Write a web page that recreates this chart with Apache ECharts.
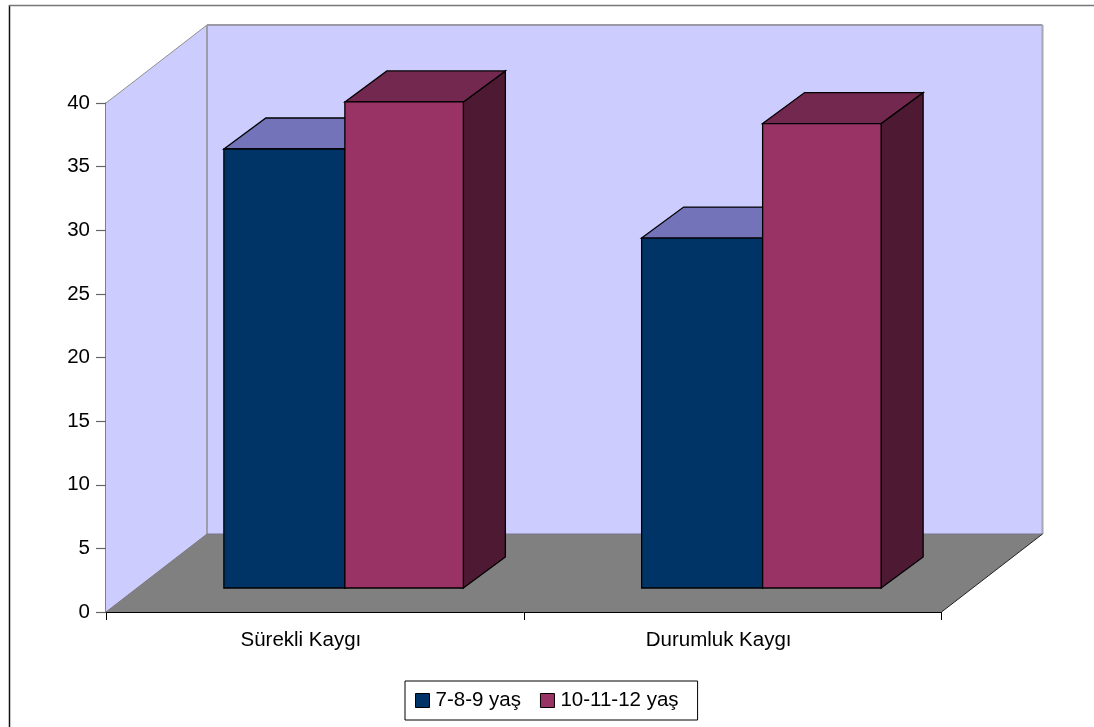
<!DOCTYPE html>
<html><head><meta charset="utf-8">
<style>html,body{margin:0;padding:0;background:#fff}#c{width:1094px;height:727px}</style>
<script src="https://cdn.jsdelivr.net/npm/echarts@6/dist/echarts.min.js"></script>
</head><body><div id="c"></div>
<script>
const categories = ['Sürekli Kaygı', 'Durumluk Kaygı'];
const seriesNames = ['7-8-9 yaş', '10-11-12 yaş'];
const young = [34.5, 27.5];
const older = [38.2, 36.5];
const yTicks = {min: 0, max: 40, interval: 5};

const FONT = '"Liberation Sans", Arial, sans-serif';
const FS = 20.5;
const wallD = {x: 101, y: 78};   // depth of the whole floor, px
const barOff = {x: 30, y: 24};   // front face of bars from axis plane
const barD = {x: 42, y: 31};     // depth of a bar
const faces = [
  {front: '#003366', top: '#7373BA', side: '#001A33', lw: 121, rw: 0},
  {front: '#993366', top: '#73284F', side: '#4D1933', lw: 0, rw: 118.5}
];

function poly(points, fill, stroke, lw) {
  return {type: 'polygon', shape: {points},
    style: {fill, stroke: stroke || 'none', lineWidth: lw || 0}};
}
function line(a, b, stroke, lw) {
  return {type: 'line', shape: {x1: a[0], y1: a[1], x2: b[0], y2: b[1]},
    style: {stroke, lineWidth: lw}};
}
function renderWalls(params) {
  const r = params.coordSys;
  const L = r.x, R = r.x + r.width, T = r.y, B = r.y + r.height;
  const dx = wallD.x, dy = wallD.y;
  return {type: 'group', children: [
    poly([[L, B], [L, T], [L + dx, T - dy], [L + dx, B - dy]], '#CCCCFF'),
    poly([[L + dx, T - dy], [R + dx, T - dy], [R + dx, B - dy], [L + dx, B - dy]], '#CCCCFF'),
    poly([[L, B], [L + dx, B - dy], [R + dx, B - dy], [R, B]], '#808080'),
    line([L, T], [L + dx, T - dy], '#8f8f8f', 1),
    line([L, B], [L + dx, B - dy], '#777777', 1),
    line([L + dx, T - dy], [L + dx, B - dy], '#8f8f8f', 1.5),
    line([L + dx, T - dy], [R + dx, T - dy], '#9a9aa8', 2),
    line([R + dx, T - dy], [R + dx, B - dy], '#a8a8b0', 2),
    line([L + dx, B - dy], [R + dx, B - dy], '#77778a', 1),
    line([R, B], [R + dx, B - dy], '#222222', 1)
  ]};
}
function barRenderer(f) {
  return function (params, api) {
    const c = api.coord([api.value(0), api.value(1)]);
    const base = api.coord([api.value(0), 0]);
    const x0 = c[0] + barOff.x - f.lw;
    const x1 = c[0] + barOff.x + f.rw;
    const yt = c[1] - barOff.y;
    const yb = base[1] - barOff.y;
    const dx = barD.x, dy = barD.y;
    const st = '#000';
    return {type: 'group', children: [
      poly([[x1, yt], [x1 + dx, yt - dy], [x1 + dx, yb - dy], [x1, yb]], f.side, st, 1.3),
      poly([[x0, yt], [x0 + dx, yt - dy], [x1 + dx, yt - dy], [x1, yt]], f.top, st, 1.3),
      poly([[x0, yt], [x1, yt], [x1, yb], [x0, yb]], f.front, st, 1.3)
    ]};
  };
}
const toData = arr => arr.map((v, i) => [i, v]);

const chart = echarts.init(document.getElementById('c'), null, {renderer: 'canvas'});
chart.setOption({
  animation: false,
  backgroundColor: '#fff',
  textStyle: {fontFamily: FONT},
  grid: {left: 106, top: 103, width: 835.5, height: 509, containLabel: false},
  legend: {
    data: seriesNames, left: 405, top: 681, orient: 'horizontal',
    padding: [9, 19, 9, 10], itemGap: 19, itemWidth: 14, itemHeight: 14,
    icon: 'rect', backgroundColor: '#fff', borderColor: '#000', borderWidth: 1, borderRadius: 0,
    selectedMode: false,
    itemStyle: {borderColor: '#000', borderWidth: 1},
    textStyle: {fontFamily: FONT, fontSize: FS, color: '#000', padding: [0, 0, 0, 1]}
  },
  xAxis: {
    type: 'category', data: categories, boundaryGap: true,
    axisLine: {show: true, lineStyle: {color: '#000', width: 1}},
    axisTick: {show: true, alignWithLabel: false, length: 8, lineStyle: {color: '#000', width: 1}},
    axisLabel: {color: '#000', fontFamily: FONT, fontSize: FS, margin: 18, padding: [0, 28, 0, 0]},
    splitLine: {show: false}
  },
  yAxis: {
    type: 'value', min: yTicks.min, max: yTicks.max, interval: yTicks.interval,
    axisLine: {show: true, lineStyle: {color: '#555', width: 1.5}},
    axisTick: {show: true, length: 10, lineStyle: {color: '#666', width: 1.2}},
    axisLabel: {color: '#000', fontFamily: FONT, fontSize: FS, margin: 16},
    splitLine: {show: false}
  },
  graphic: [
    {type: 'line', z: 100, shape: {x1: 9.5, y1: 5, x2: 9.5, y2: 727}, style: {stroke: '#111', lineWidth: 1.5}},
    {type: 'line', z: 100, shape: {x1: 9, y1: 5.5, x2: 1094, y2: 5.5}, style: {stroke: '#777', lineWidth: 1.5}}
  ],
  series: [
    {type: 'custom', name: 'walls', coordinateSystem: 'cartesian2d', z: 1, silent: true,
      data: [[0, 0]], renderItem: renderWalls, clip: false},
    {type: 'custom', name: seriesNames[0], coordinateSystem: 'cartesian2d', z: 2, silent: true,
      itemStyle: {color: faces[0].front}, data: toData(young), renderItem: barRenderer(faces[0]), clip: false},
    {type: 'custom', name: seriesNames[1], coordinateSystem: 'cartesian2d', z: 2, silent: true,
      itemStyle: {color: faces[1].front}, data: toData(older), renderItem: barRenderer(faces[1]), clip: false}
  ]
});
</script></body></html>
